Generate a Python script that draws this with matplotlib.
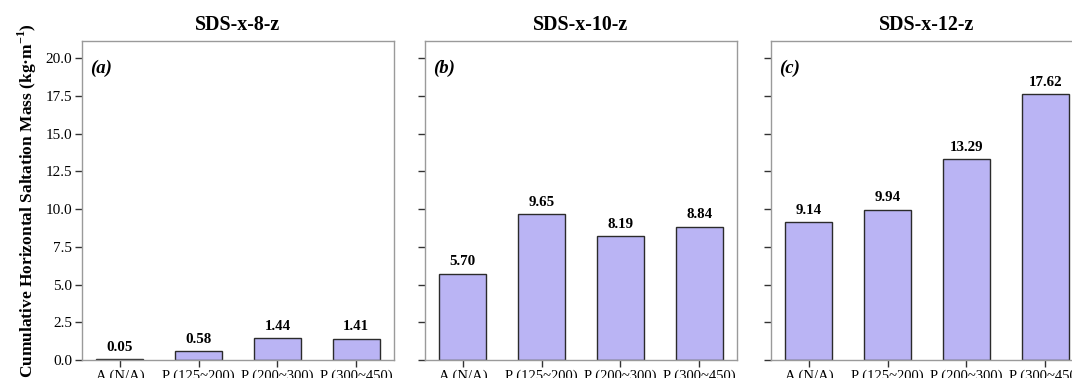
import numpy as np
import matplotlib.pyplot as plt

plt.rcParams['font.family'] = ['Liberation Serif', 'DejaVu Serif']
plt.rcParams['mathtext.fontset'] = 'custom'
plt.rcParams['mathtext.rm'] = 'Liberation Serif'
plt.rcParams['mathtext.bf'] = 'Liberation Serif:bold'

categories = ["A (N/A)", "P (125~200)", "P (200~300)", "P (300~450)"]
titles = ["SDS-x-8-z", "SDS-x-10-z", "SDS-x-12-z"]
panel_tags = ["(a)", "(b)", "(c)"]
mass_8 = [0.05, 0.58, 1.44, 1.41]
mass_10 = [5.70, 9.65, 8.19, 8.84]
mass_12 = [9.14, 9.94, 13.29, 17.62]
series = [mass_8, mass_10, mass_12]

W, H = 1072, 378
fig = plt.figure(figsize=(W / 100, H / 100), dpi=100)

lefts = [82, 425, 771]
ax_w, ax_bot, ax_top = 312, 360, 41
ymax = max(mass_12) * 1.2
yt = np.arange(0, 20.01, 2.5)

for i, (vals, left) in enumerate(zip(series, lefts)):
    ax = fig.add_axes([left / W, 1 - ax_bot / H, ax_w / W, (ax_bot - ax_top) / H])
    x = np.arange(len(categories))
    bars = ax.bar(x, vals, width=0.6, color="#bab4f4", edgecolor="#2b2b2b", linewidth=1.0)
    for b, v in zip(bars, vals):
        ax.annotate(f"{v:.2f}", (b.get_x() + b.get_width() / 2, v),
                    xytext=(0, 4), textcoords="offset points",
                    ha="center", va="bottom", fontsize=10.8, fontweight="bold")
    ax.set_xlim(-0.48, 3.48)
    ax.set_ylim(0, ymax)
    ax.set_yticks(yt)
    ax.set_xticks(x)
    ax.set_xticklabels(categories, fontsize=10.5)
    if i == 0:
        ax.set_yticklabels([f"{t:.1f}" for t in yt], fontsize=11)
        ax.set_ylabel("Cumulative Horizontal Saltation Mass (kg·m$^{\\mathbf{-1}}$)",
                      fontsize=12.5, fontweight="bold", labelpad=5)
    else:
        ax.set_yticklabels([])
    for s in ax.spines.values():
        s.set_color("#9a9a9a")
        s.set_linewidth(1.0)
    ax.tick_params(axis="both", direction="out", length=5, width=1.0, color="#333333", pad=2)
    ax.set_title(titles[i], fontsize=14.3, fontweight="bold", pad=8)
    ax.text(0.025, 0.915, panel_tags[i], transform=ax.transAxes, fontsize=13.5,
            fontweight="bold", fontstyle="italic", ha="left", va="center")

fig.savefig("out.png", dpi=100)
